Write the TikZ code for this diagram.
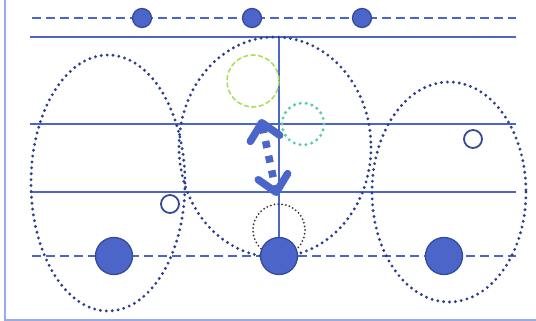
\documentclass[tikz,border=0pt]{standalone}
\usetikzlibrary{arrows.meta}
\definecolor{mblue}{HTML}{4B66C8}
\definecolor{dblue}{HTML}{354A99}
\definecolor{navy}{HTML}{2D3E8A}
\definecolor{frameblue}{HTML}{9AAAE6}
\definecolor{lgreen}{HTML}{A8E05A}
\definecolor{teal2}{HTML}{55D0A5}
\tikzset{
  solidln/.style={draw=mblue,line width=2.4pt},
  dashln/.style={draw=mblue,line width=2.6pt,dash pattern=on 9pt off 5pt},
  bigdot/.style={fill=mblue,draw=dblue,line width=1.3pt},
  opendot/.style={draw=dblue,line width=1.8pt,fill=white},
  dotell/.style={draw=navy,line width=3.2pt,line cap=round,dash pattern=on 0pt off 5.9pt},
  mybarb/.tip={Straight Barb[length=16pt,width=30pt,line cap=round,line join=round]},
}
\begin{document}
\begin{tikzpicture}[x=1pt,y=-1pt]
\useasboundingbox (0,0) rectangle (536,321);
% frame
\draw[frameblue,line width=1.5pt] (5,0) -- (5,320) -- (536,320);
% lines
\draw[dashln] (32,18) -- (516,18);
\draw[solidln] (30,37) -- (516,37);
\draw[solidln] (30,124) -- (516,124);
\draw[solidln] (30,192) -- (516,192);
\draw[dashln] (32,256) -- (516,256);
\draw[solidln] (279,37) -- (279,256);
% dotted ellipses
\draw[dotell] (108,183) ellipse [x radius=77, y radius=128];
\draw[dotell] (275,147) ellipse [x radius=96, y radius=110];
\draw[dotell] (449,192) ellipse [x radius=77, y radius=110];
% small circles
\draw[lgreen,line width=1.6pt,dash pattern=on 5pt off 2.5pt] (253,81) circle (26);
\draw[teal2,line width=3.4pt,line cap=round,dash pattern=on 0pt off 6pt] (303,124) circle (21);
\draw[black!80,line width=2pt,line cap=round,dash pattern=on 0pt off 3.8pt] (279,230) circle (26);
% top dots
\node[bigdot,circle,minimum size=19pt,inner sep=0pt] (t1) at (142,18) {};
\node[bigdot,circle,minimum size=19pt,inner sep=0pt] (t2) at (252,18) {};
\node[bigdot,circle,minimum size=19pt,inner sep=0pt] (t3) at (362,18) {};
% bottom big dots
\node[bigdot,circle,minimum size=37pt,inner sep=0pt] (b1) at (114,256) {};
\node[bigdot,circle,minimum size=37pt,inner sep=0pt] (b2) at (279,256) {};
\node[bigdot,circle,minimum size=37pt,inner sep=0pt] (b3) at (444,256) {};
% open dots
\node[opendot,circle,minimum size=18pt,inner sep=0pt] (o1) at (170,204) {};
\node[opendot,circle,minimum size=18pt,inner sep=0pt] (o2) at (473,139) {};
% arrow
\coordinate (atop) at (261,119);
\coordinate (abot) at (277,196);
\draw[mblue,line width=7.5pt,dash pattern=on 7pt off 8pt,mybarb-mybarb] (atop) -- (abot);
\end{tikzpicture}
\end{document}
